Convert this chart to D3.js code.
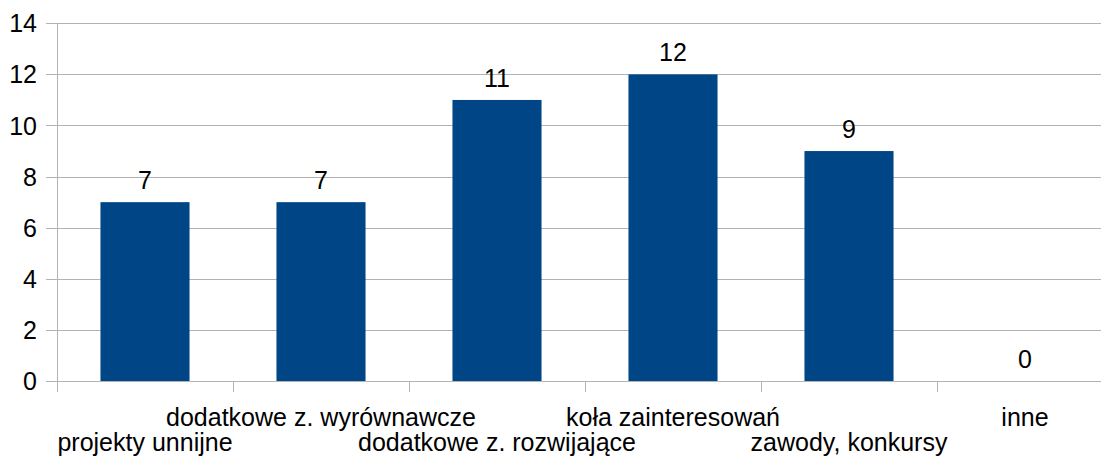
<!DOCTYPE html>
<html><head><meta charset="utf-8">
<script src="https://cdn.jsdelivr.net/npm/d3@7/dist/d3.min.js"></script>
<style>body{margin:0;background:#fff;overflow:hidden}svg{display:block}</style>
</head><body><svg id="c" width="1101" height="463"></svg>
<script>
const categories = ["projekty unnijne","dodatkowe z. wyrównawcze","dodatkowe z. rozwijające","koła zainteresowań","zawody, konkursy","inne"];
const values = [7,7,11,12,9,0];
const yTicks = [0,2,4,6,8,10,12,14];

(function(){
const svg = d3.select("#c");
const pLeft = 57, pRight = 1113, pTop = 23.3, pBottom = 381;
const font = "'Liberation Sans', Arial, sans-serif";
const fs = 25;
const grid = "#b3b3b3";

const x = d3.scaleBand().domain(categories).range([pLeft, pRight]).paddingInner(0).paddingOuter(0);
const y = d3.scaleLinear().domain([0,14]).range([pBottom, pTop]);
const barW = x.bandwidth() * 0.506;

// grid + y ticks
svg.append("g").selectAll("line").data(yTicks).join("line")
  .attr("x1", pLeft - 11).attr("x2", 1101)
  .attr("y1", d => Math.round(y(d)) + 0.5).attr("y2", d => Math.round(y(d)) + 0.5)
  .attr("stroke", grid).attr("stroke-width", 1);

// y axis line
svg.append("line").attr("x1", pLeft + 0.5).attr("x2", pLeft + 0.5)
  .attr("y1", Math.round(pTop)).attr("y2", pBottom + 11).attr("stroke", grid);

// x ticks at category boundaries
const bounds = categories.map(c => x(c)).concat([pRight]);
svg.append("g").selectAll("line").data(bounds).join("line")
  .attr("x1", d => Math.round(d) + 0.5).attr("x2", d => Math.round(d) + 0.5)
  .attr("y1", pBottom).attr("y2", pBottom + 11).attr("stroke", grid);

// y labels
svg.append("g").selectAll("text").data(yTicks).join("text")
  .attr("x", 37).attr("y", d => y(d) + 9)
  .attr("text-anchor", "end").attr("font-family", font).attr("font-size", fs)
  .attr("fill", "#000").text(d => d);

// bars
svg.append("g").selectAll("rect").data(values).join("rect")
  .attr("x", (d,i) => x(categories[i]) + (x.bandwidth() - barW)/2)
  .attr("width", barW)
  .attr("y", d => y(d)).attr("height", d => pBottom - y(d))
  .attr("fill", "#004586");

// value labels
svg.append("g").selectAll("text").data(values).join("text")
  .attr("x", (d,i) => x(categories[i]) + x.bandwidth()/2)
  .attr("y", d => y(d) - 13)
  .attr("text-anchor", "middle").attr("font-family", font).attr("font-size", fs)
  .attr("fill", "#000").text(d => d);

// category labels (staggered)
svg.append("g").selectAll("text").data(categories).join("text")
  .attr("x", c => x(c) + x.bandwidth()/2)
  .attr("y", (c,i) => i % 2 === 0 ? 451 : 426)
  .attr("text-anchor", "middle").attr("font-family", font).attr("font-size", fs)
  .attr("fill", "#000").text(c => c);
})();
</script></body></html>
